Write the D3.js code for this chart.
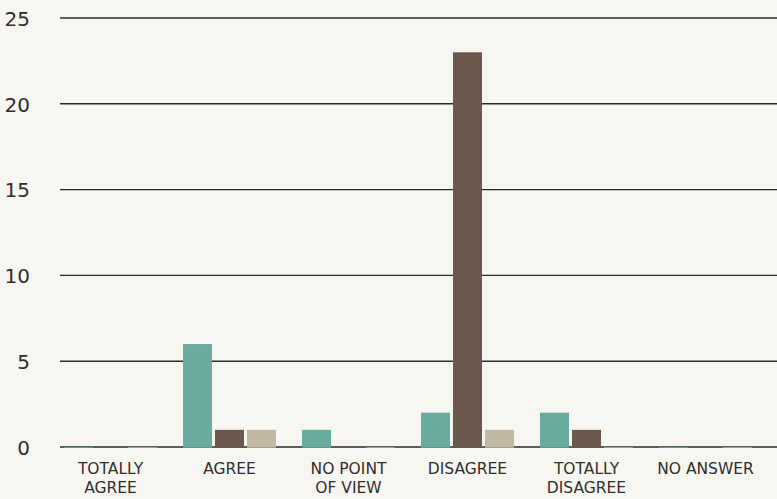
<!DOCTYPE html>
<html>
<head>
<meta charset="utf-8">
<script src="https://cdn.jsdelivr.net/npm/d3@7"></script>
<style>
html,body{margin:0;padding:0;background:#f8f6f1;}
svg{display:block;}
</style>
</head>
<body>
<svg id="chart" width="777" height="499"></svg>
<script>
const categories = ["TOTALLY AGREE", "AGREE", "NO POINT OF VIEW", "DISAGREE", "TOTALLY DISAGREE", "NO ANSWER"];
const categoryLines = [["TOTALLY", "AGREE"], ["AGREE"], ["NO POINT", "OF VIEW"], ["DISAGREE"], ["TOTALLY", "DISAGREE"], ["NO ANSWER"]];
const seriesNames = ["Series 1", "Series 2", "Series 3"];
const series1 = [0, 6, 1, 2, 2, 0];
const series2 = [0, 1, 0, 23, 1, 0];
const series3 = [0, 1, 0, 1, 0, 0];
const yTicks = [0, 5, 10, 15, 20, 25];
const colors = ["#6aab9f", "#6b574b", "#c0b8a0"];

const seriesValues = [series1, series2, series3];
const svg = d3.select("#chart");
const W = 777, H = 499;

const x0 = d3.scaleBand().domain(categories).range([51, 765]).padding(0);
const x1 = d3.scaleBand().domain(seriesNames).range([13, 106]).paddingInner(0.09375).paddingOuter(0);
const y = d3.scaleLinear().domain([0, 25]).range([447, 18]);

svg.append("rect").attr("width", W).attr("height", H).attr("fill", "#f8f6f1");

const yAxis = d3.axisLeft(y).tickValues(yTicks).tickSize(0).tickPadding(0).tickFormat(d3.format("d"));
const gy = svg.append("g").attr("transform", "translate(30,0)").call(yAxis);
gy.select(".domain").remove();
gy.selectAll("text").attr("font-family", "'DejaVu Sans', sans-serif").attr("font-size", 20).attr("fill", "#2e2e2e").attr("text-anchor", "end").attr("dy", "0.36em");

svg.append("g").selectAll("line").data(yTicks).join("line")
  .attr("x1", 60).attr("x2", W)
  .attr("y1", d => y(d)).attr("y2", d => y(d))
  .attr("stroke", "#2a2a2a").attr("stroke-width", 1.4);

const groups = svg.append("g").selectAll("g").data(categories).join("g")
  .attr("transform", d => `translate(${x0(d)},0)`);
groups.selectAll("rect").data((c, i) => seriesNames.map((s, j) => ({s, v: seriesValues[j][i], j})))
  .join("rect")
  .attr("x", d => x1(d.s))
  .attr("width", x1.bandwidth())
  .attr("y", d => y(d.v))
  .attr("height", d => y(0) - y(d.v) + 0.7)
  .attr("fill", d => colors[d.j]);

const xAxis = d3.axisBottom(x0).tickSize(0).tickFormat("");
const gx = svg.append("g").attr("transform", `translate(0,447)`).call(xAxis);
gx.select(".domain").remove();
const labels = svg.append("g").selectAll("text").data(categories).join("text")
  .attr("x", d => x0(d) + x0.bandwidth() / 2)
  .attr("y", 474)
  .attr("text-anchor", "middle")
  .attr("font-family", "'DejaVu Sans', sans-serif")
  .attr("font-size", 15.5)
  .attr("fill", "#2e2e2e");
labels.each(function(d, i) {
  const t = d3.select(this);
  categoryLines[i].forEach((line, k) => {
    t.append("tspan").attr("x", x0(d) + x0.bandwidth() / 2).attr("dy", k === 0 ? 0 : 19).text(line);
  });
});
</script>
</body>
</html>
